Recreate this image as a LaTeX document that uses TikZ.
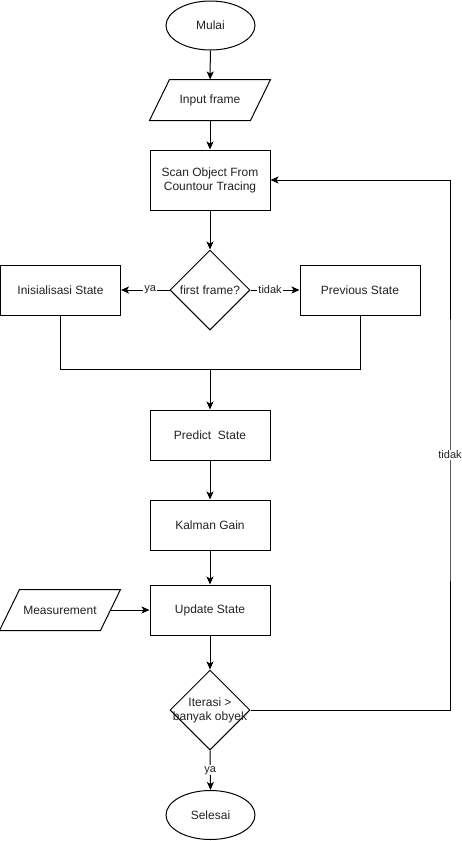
\documentclass[tikz,border=0pt]{standalone}
\usepackage{fontspec}
\setmainfont{Liberation Sans}
\usetikzlibrary{shapes.geometric,arrows.meta}
\definecolor{txt}{HTML}{222222}
\begin{document}
\begin{tikzpicture}[x=1pt,y=-1pt,line width=1pt,
  every node/.style={font=\fontsize{12}{14}\selectfont,text=txt,inner sep=0pt},
  proc/.style={draw,rectangle,minimum width=120pt,minimum height=50pt,align=center},
  term/.style={draw,ellipse,minimum width=89pt,minimum height=49pt},
  iobox/.style={rectangle,minimum width=120pt,minimum height=40pt},
  dia/.style={draw,diamond,minimum width=80pt,minimum height=80pt,inner sep=0pt},
  elab/.style={fill=white,font=\fontsize{11}{13}\selectfont,inner sep=1pt},
  arr/.style={-{Stealth[length=8pt,width=7pt,inset=2pt]}}]
\useasboundingbox (0,0) rectangle (462,841);
\node[term] (mulai) at (210.5,25.5) {Mulai};
\node[iobox] (input) at (210,100) {Input frame};
\draw ([xshift=20pt]input.north west) -- (input.north east) -- ([xshift=-20pt]input.south east) -- (input.south west) -- cycle;
\node[proc,minimum height=60pt] (scan) at (210,180) {Scan Object From\\Countour Tracing};
\node[dia] (d1) at (210,290) {};
\node at (d1) {first frame?};
\node[proc] (init) at (60.5,290) {Inisialisasi State};
\node[proc] (prev) at (360,290) {Previous State};
\coordinate (m) at (210,369);
\node[proc] (pred) at (210,435) {Predict\ \ State};
\node[proc] (kal) at (210,525) {Kalman Gain};
\node[proc] (upd) at (210,610) {Update State};
\node[iobox] (meas) at (60,610) {Measurement};
\draw ([xshift=20pt]meas.north west) -- (meas.north east) -- ([xshift=-20pt]meas.south east) -- (meas.south west) -- cycle;
\coordinate (measr) at (110,610);
\node[dia] (d2) at (210,710) {};
\node[align=center] at (d2) {Iterasi >\\banyak obyek};
\node[term] (sel) at (210.5,815) {Selesai};
\coordinate (loop) at (450,455);
% connectors
\draw[arr] (mulai) -- (input);
\draw[arr] (input) -- (scan);
\draw[arr] (scan) -- (d1);
\draw[arr] (d1.west) -- node[elab,pos=0.4] {ya} (init.east);
\draw[arr] (d1.east) -- node[elab,pos=0.4] {tidak} (prev.west);
\draw (init.south) |- (m);
\draw (prev.south) |- (m);
\draw[arr] (m) -- (pred.north);
\draw[arr] (pred) -- (kal);
\draw[arr] (kal) -- (upd);
\draw[arr] (measr) -- (upd.west);
\draw[arr] (upd) -- (d2.north);
\draw[arr] (d2.south) -- node[elab] {ya} (sel.north);
\draw[arr] (d2.east) -| (loop) |- (scan.east);
\node[elab] at (loop) {tidak};
\end{tikzpicture}
\end{document}
